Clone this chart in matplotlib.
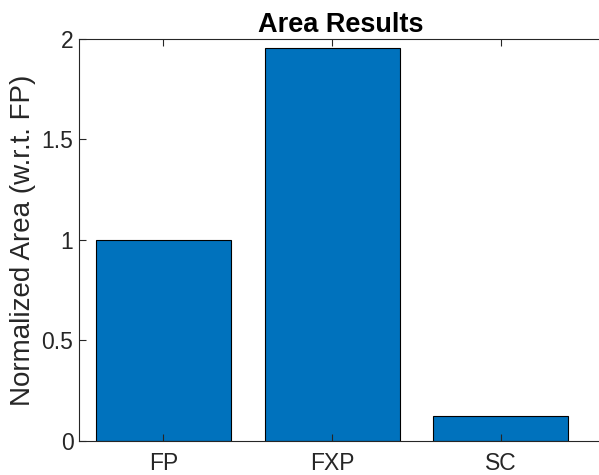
import matplotlib
matplotlib.use("Agg")
import matplotlib.pyplot as plt

categories = ["FP", "FXP", "SC"]
area = [1.0, 1.957, 0.125]

plt.rcParams["font.family"] = ["Liberation Sans", "DejaVu Sans"]

fig = plt.figure(figsize=(5.99, 4.75), dpi=100)
ax = fig.add_axes([79 / 599, 1 - 440.7 / 475, (603 - 79) / 599, (440.7 - 39) / 475])

x = list(range(1, len(categories) + 1))
ax.bar(x, area, width=0.8, color="#0072BD", edgecolor="black", linewidth=0.8)

ax.set_xlim(0.5, 0.5 + (603 - 79) / 168.7)
ax.set_ylim(0, 2)
ax.set_xticks(x)
ax.set_xticklabels(categories)
ax.set_yticks([0, 0.5, 1, 1.5, 2])
ax.set_yticklabels(["0", "0.5", "1", "1.5", "2"])

dark = "#262626"
for side in ["left", "bottom", "top"]:
    ax.spines[side].set_color(dark)
    ax.spines[side].set_linewidth(0.8)
ax.spines["right"].set_visible(False)
ax.tick_params(direction="in", length=5, width=0.8, colors=dark, labelsize=16.5,
               top=True, right=False)
ax.tick_params(axis="x", pad=8)
ax.tick_params(axis="y", pad=4)

ax.set_ylabel("Normalized Area (w.r.t. FP)", fontsize=20, color=dark, labelpad=4)
ax.set_title("Area Results", fontsize=19.5, fontweight="bold", pad=5)

fig.savefig("out.png", dpi=100)
